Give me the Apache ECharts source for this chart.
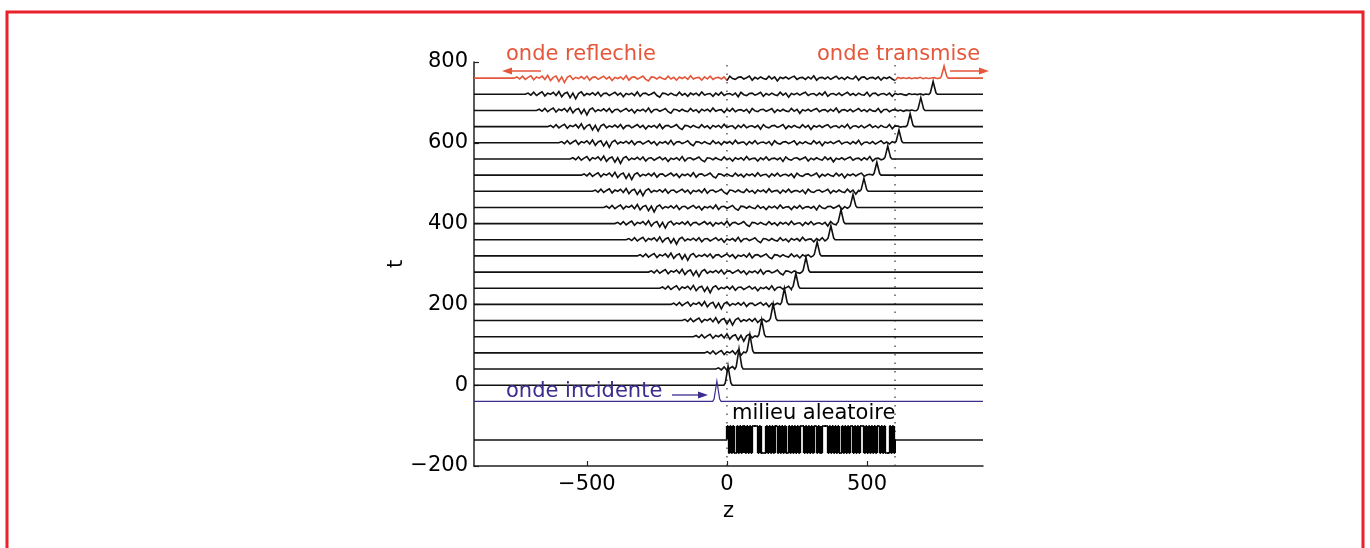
<!DOCTYPE html>
<html>
<head>
<meta charset="utf-8">
<script src="https://cdn.jsdelivr.net/npm/echarts@6/dist/echarts.min.js"></script>
<style>
  html, body { margin: 0; padding: 0; background: #fff; }
  #chart { width: 1370px; height: 548px; }
</style>
</head>
<body>
<div id="chart"></div>
<script>
// axis ranges and tick labels
var zMin = -903, zMax = 914;
var zTicks = [-500, 0, 500];
var tMin = -200, tMax = 800;
var mediumStart = 0, mediumEnd = 600;

// one snapshot per time t: where the pulse is and how tall it is
var traceTimes = [0, 40, 80, 120, 160, 200, 240, 280, 320, 360, 400, 440, 480, 520, 560, 600, 640, 680, 720, 760];
var pulseZ = [4, 43, 82, 124, 165, 205, 246, 282, 322, 371, 407, 450, 489, 535, 574, 614, 654, 692, 736, 775];
var pulseAmp = [47, 50, 45, 42, 42, 40, 37, 37, 35, 35, 35, 32, 32, 32, 32, 32, 32, 32, 32, 30];
// pulse profile, samples every 5 units of z around the centre
var pulseShape = [0, 0.12, 0.55, 1, 0.55, 0.12, 0];

// incident pulse (t = -40)
var incidentT = -40, incidentZ = -36, incidentAmp = 50;

// reflected coda, read every 10 units of z behind the left front
var echoNoise = [
  0, 3, -2, 5, -3, 2, 6, -4, 3, 0,
  5, -3, 7, -6, 2, 5, -8, 3, -11, 2,
  6, -3, 2, -1, 4, -2, 5, -5, 2, 3,
  -3, 1, 5, -2, 3, -6, 2, -1, 3, -3,
  6, -5, 2, 3, -2, 1, 5, -3, -7, 3,
  2, -2, 3, -1, -3, 5, -2, 2, -5, 3,
  -1, 3, -3, 6, -2, 1, 2, -5, 3, -2,
  5, -3, 1, 2, -2, 3, -6, 5, -1, -3,
  2, 3, -2, 1, 5, -5, 2, -2, 3, -1,
  -3, 5, -2, 3, -7, 2, -1, 3, -2, 2,
  5, -3, 1, 2, -3, 3, -2, 6, -5, 1,
  2, -2, 3, -3, 1, 5, -2, 2, -3, 3,
  -1, -2, 5, -5, 2, 3, -3, 1, 2, -2,
  3, -5, 2, -1, 3, -2, -6, 5, -1, 2,
  -2, 3, -3, 2, -1, 5, -3, 2, -2, 1,
  3, -2, 2, -5, 3, -1, -2, 3, -3, 2,
  -1, 2, -3, 3, -2, 1, 2, -2, 1, 2
];

// random medium: 5-unit cells from z=0 to 600, 1 = high, 0 = low
var mediumT = -134, mediumHigh = -101, mediumLow = -168;
var mediumCells = [
  1,0,1,0,1,0,0,1,0,1,0,1,1,0,1,0,1,0,
  1,1,1,1,
  0,1,0,
  0,0,0,
  1,0,1,0,1,0,1,1,0,1,0,1,0,1,0,0,1,0,1,0,1,0,1,0,
  1,1,1,
  0,1,0,1,0,1,0,1,1,0,1,0,0,
  1,1,1,1,
  0,1,0,1,0,1,0,1,0,0,1,0,1,0,1,0,1,1,0,1,0,1,0,
  1,1,1,
  0,1,0,1,0,1,0,1,0,1,1,0,1,0,1,0,
  0,0,
  1,0,1,0
];

var FONT = "'DejaVu Sans', sans-serif";
var black = '#111', red = '#e4573b', purple = '#3d2c8d';

function addPulse(pts, t, pz, amp) {
  var half = (pulseShape.length - 1) / 2;
  for (var j = 0; j < pulseShape.length; j++) {
    pts.push([pz + 5 * (j - half), t + amp * pulseShape[j]]);
  }
}

function buildTrace(t, pz, amp) {
  var pts = [[zMin, t]];
  for (var k = 0; k < echoNoise.length; k++) {
    var z = -t + 10 * k;
    if (z >= pz - 15) break;
    var v = echoNoise[k];
    if (z > mediumEnd) v = v * 0.4;
    pts.push([z, t + v]);
  }
  addPulse(pts, t, pz, amp);
  pts.push([zMax, t]);
  return pts;
}

function item(coords, color, width) {
  return { coords: coords, lineStyle: { color: color, width: width || 1.6 } };
}

var traceItems = [];
traceTimes.forEach(function (t, i) {
  var pts = buildTrace(t, pulseZ[i], pulseAmp[i]);
  if (i < traceTimes.length - 1) {
    traceItems.push(item(pts, black));
  } else {
    // last snapshot: reflected and transmitted parts in red
    traceItems.push(item(pts.filter(function (p) { return p[0] <= mediumStart; }), red));
    traceItems.push(item(pts.filter(function (p) { return p[0] >= mediumStart && p[0] <= mediumEnd; }), black));
    traceItems.push(item(pts.filter(function (p) { return p[0] >= mediumEnd; }), red));
  }
});

// incident pulse
var inc = [[zMin, incidentT]];
addPulse(inc, incidentT, incidentZ, incidentAmp);
inc.push([zMax, incidentT]);
traceItems.push(item(inc, purple, 1.2));

// medium barcode: each cell its own short segment, jumps as vertical strokes
var barItems = [];
var prev = mediumT;
barItems.push(item([[zMin, mediumT], [mediumStart, mediumT]], '#111', 1.5));
mediumCells.forEach(function (c, i) {
  var lv = c ? mediumHigh : mediumLow;
  var z0 = mediumStart + 5 * i;
  if (lv !== prev) barItems.push(item([[z0, prev], [z0, lv]], '#000', 2.3));
  barItems.push(item([[z0, lv], [z0 + 5, lv]], '#000', 1.8));
  prev = lv;
});
barItems.push(item([[mediumEnd, prev], [mediumEnd, mediumT]], '#000', 2));
barItems.push(item([[mediumEnd, mediumT], [zMax, mediumT]], '#111', 1.5));

var series = [
  {
    type: 'lines', coordinateSystem: 'cartesian2d', polyline: true,
    data: traceItems, silent: true, animation: false, z: 3, large: false,
    lineStyle: { width: 1.6, opacity: 1 }
  },
  {
    type: 'lines', coordinateSystem: 'cartesian2d', polyline: false,
    data: barItems, silent: true, animation: false, z: 3, large: false,
    lineStyle: { width: 1.8, opacity: 1 }
  }
];

// dotted medium boundaries
[mediumStart, mediumEnd].forEach(function (z) {
  series.push({
    type: 'line', data: [[z, tMin], [z, tMax]], symbol: 'none', silent: true, animation: false, z: 2,
    lineStyle: { color: '#333', width: 1.2, type: [1.5, 7] }
  });
});

function minus(v) { return String(v).replace('-', '\u2212'); }

var chart = echarts.init(document.getElementById('chart'));
chart.setOption({
  backgroundColor: '#fff',
  animation: false,
  grid: { left: 474, right: 387, top: 62, bottom: 82, containLabel: false, outerBoundsMode: 'none' },
  xAxis: {
    type: 'value', min: zMin, max: zMax,
    name: 'z', nameLocation: 'middle', nameGap: 35,
    nameTextStyle: { color: '#000', fontSize: 21, fontFamily: FONT },
    axisLine: { show: true, onZero: false, lineStyle: { color: '#222', width: 1.5 } },
    axisTick: { show: true, inside: true, length: 5, customValues: zTicks, lineStyle: { color: '#222', width: 1.2 } },
    axisLabel: { customValues: zTicks, color: '#000', fontSize: 21, fontFamily: FONT, margin: 8, formatter: minus },
    splitLine: { show: false }
  },
  yAxis: {
    type: 'value', min: tMin, max: tMax, interval: 200,
    axisLine: { show: true, onZero: false, lineStyle: { color: '#222', width: 1.5 } },
    axisTick: { show: true, inside: true, length: 5, lineStyle: { color: '#222', width: 1.2 } },
    axisLabel: { color: '#000', fontSize: 21, fontFamily: FONT, margin: 6, formatter: minus, showMinLabel: true, showMaxLabel: true },
    splitLine: { show: false }
  },
  series: series,
  graphic: [
    { type: 'rect', z: -10, silent: true, shape: { x: 7, y: 12, width: 1356, height: 560 },
      style: { fill: 'none', stroke: '#e8212b', lineWidth: 3 } },
    // y axis title, rotated like a MATLAB ylabel
    { type: 'text', silent: true, z: 10, x: 397, y: 264, rotation: Math.PI / 2,
      style: { text: 't', x: 0, y: 0, fill: '#000', font: '21px ' + FONT, textAlign: 'center', textVerticalAlign: 'middle' } },
    { type: 'text', silent: true, z: 10, style: { text: 'onde reflechie', x: 506, y: 54.5, fill: red, font: '21px ' + FONT, textVerticalAlign: 'middle' } },
    { type: 'text', silent: true, z: 10, style: { text: 'onde transmise', x: 817, y: 54.5, fill: red, font: '21px ' + FONT, textVerticalAlign: 'middle' } },
    { type: 'text', silent: true, z: 10, style: { text: 'onde incidente', x: 506, y: 391.5, fill: purple, font: '21px ' + FONT, textVerticalAlign: 'middle' } },
    { type: 'text', silent: true, z: 10, style: { text: 'milieu aleatoire', x: 732, y: 414, fill: '#000', font: '21px ' + FONT, textVerticalAlign: 'middle' } },
    // arrows
    { type: 'line', silent: true, z: 10, shape: { x1: 541, y1: 71, x2: 508, y2: 71 }, style: { stroke: red, lineWidth: 1.3 } },
    { type: 'polygon', silent: true, z: 10, shape: { points: [[502, 71], [512, 67.5], [512, 74.5]] }, style: { fill: red } },
    { type: 'line', silent: true, z: 10, shape: { x1: 950, y1: 71, x2: 983, y2: 71 }, style: { stroke: red, lineWidth: 1.3 } },
    { type: 'polygon', silent: true, z: 10, shape: { points: [[989, 71], [979, 67.5], [979, 74.5]] }, style: { fill: red } },
    { type: 'line', silent: true, z: 10, shape: { x1: 672, y1: 395, x2: 702, y2: 395 }, style: { stroke: purple, lineWidth: 1.3 } },
    { type: 'polygon', silent: true, z: 10, shape: { points: [[708, 395], [698, 391.5], [698, 398.5]] }, style: { fill: purple } }
  ]
});
</script>
</body>
</html>
